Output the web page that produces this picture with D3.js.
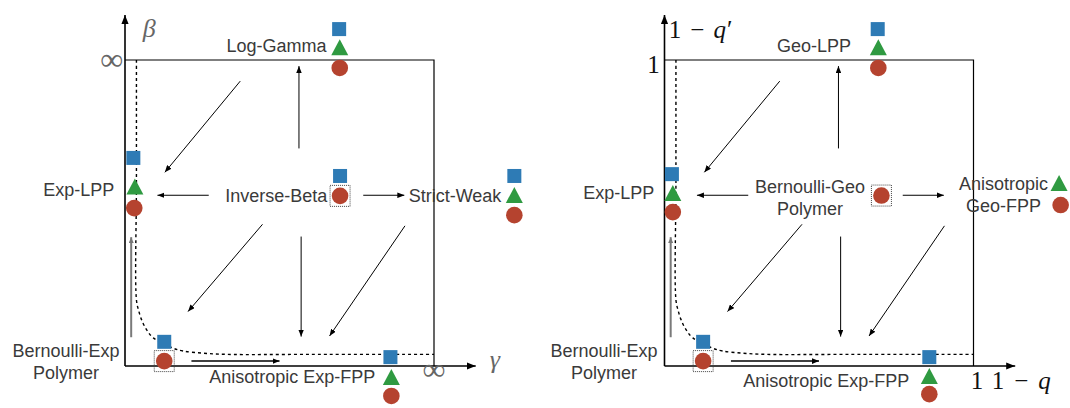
<!DOCTYPE html>
<html><head><meta charset="utf-8">
<script src="https://cdn.jsdelivr.net/npm/d3@7"></script>
<style>body{margin:0;background:#fff}svg{display:block}</style>
</head><body>
<svg id="c" width="1070" height="408"></svg>
<script>
// ---------- data (diagram coordinates in units of the parameter box: 0..1) ----------
const panels = [0, 1];
const yAxisTitles = ["β", "1 − q′"];
const xAxisTitles = ["γ", "1 − q"];
const yMaxLabels = ["∞", "1"];
const xMaxLabels = ["∞", "1"];

// node labels: [panel, lines, x, y(center of first line), anchor]
const nodeLabels = [
  [0, ["Log-Gamma"], 0.652, 1.046, "end"],
  [0, ["Exp-LPP"], -0.035, 0.575, "end"],
  [0, ["Inverse-Beta"], 0.655, 0.557, "end"],
  [0, ["Strict-Weak"], 1.218, 0.556, "end"],
  [0, ["Bernoulli-Exp", "Polymer"], -0.191, 0.049, "middle"],
  [0, ["Anisotropic Exp-FPP"], 0.810, -0.035, "end"],
  [1, ["Geo-LPP"], 0.604, 1.046, "end"],
  [1, ["Exp-LPP"], -0.033, 0.566, "end"],
  [1, ["Bernoulli-Geo", "Polymer"], 0.471, 0.586, "middle"],
  [1, ["Anisotropic", "Geo-FPP"], 1.097, 0.597, "middle"],
  [1, ["Bernoulli-Exp", "Polymer"], -0.196, 0.049, "middle"],
  [1, ["Anisotropic Exp-FPP"], 0.792, -0.049, "end"]
];

// markers: [panel, shape, x, y]
const markers = [
  [0, "square", 0.693, 1.101], [0, "triangle", 0.695, 1.042], [0, "circle", 0.695, 0.974],
  [0, "square", 0.027, 0.680], [0, "triangle", 0.032, 0.587], [0, "circle", 0.030, 0.516],
  [0, "square", 0.696, 0.621], [0, "boxedCircle", 0.696, 0.556],
  [0, "square", 1.260, 0.621], [0, "triangle", 1.260, 0.559], [0, "circle", 1.260, 0.493],
  [0, "square", 0.127, 0.079], [0, "boxedCircle", 0.127, 0.016],
  [0, "square", 0.859, 0.029], [0, "triangle", 0.862, -0.036], [0, "circle", 0.862, -0.098],
  [1, "square", 0.690, 1.101], [1, "triangle", 0.692, 1.042], [1, "circle", 0.692, 0.974],
  [1, "square", 0.024, 0.627], [1, "triangle", 0.027, 0.565], [1, "circle", 0.027, 0.503],
  [1, "boxedCircle", 0.702, 0.557],
  [1, "triangle", 1.277, 0.598], [1, "circle", 1.282, 0.526],
  [1, "square", 0.125, 0.079], [1, "boxedCircle", 0.125, 0.016],
  [1, "square", 0.857, 0.029], [1, "triangle", 0.857, -0.033], [1, "circle", 0.857, -0.092]
];

// flow arrows (same in both panels): [x1, y1, x2, y2, kind]
const arrows = [
  [0.373, 0.931, 0.129, 0.633, "thin"],
  [0.563, 0.711, 0.563, 0.980, "thin"],
  [0.271, 0.558, 0.105, 0.558, "thin"],
  [0.771, 0.558, 0.904, 0.558, "thin"],
  [0.445, 0.463, 0.204, 0.178, "thin"],
  [0.570, 0.423, 0.570, 0.096, "thin"],
  [0.906, 0.458, 0.662, 0.098, "thin"],
  [0.020, 0.094, 0.020, 0.421, "gray"],
  [0.215, 0.016, 0.500, 0.016, "bold"]
];

// dashed critical curve
const curvePoints = [
  [0.037, 1.0], [0.037, 0.6], [0.037, 0.216], [0.0437, 0.183], [0.0541, 0.150],
  [0.0702, 0.118], [0.0917, 0.092], [0.156, 0.058], [0.188, 0.049],
  [0.253, 0.042], [0.329, 0.038], [0.6, 0.038], [1.0, 0.038]
];

// ---------- layout ----------
const svg = d3.select("#c");
const panelLeft = [125, 664.5];
const boxW = 309, boxTop = 60, boxBottom = 366;
const axisYEnd = 1.147, axisXEnd = 1.135;
const col = {square: "#2e7bb5", triangle: "#2f9a41", circle: "#b5432f"};
const labelFont = "'Liberation Sans', Arial, Helvetica, sans-serif";
const mathFont = "'Liberation Serif', 'Times New Roman', serif";

const defs = svg.append("defs");
function mk(id, len, hw, color) {
  defs.append("marker").attr("id", id)
    .attr("markerUnits", "userSpaceOnUse")
    .attr("viewBox", `0 ${-hw} ${len} ${2*hw}`)
    .attr("refX", len).attr("refY", 0)
    .attr("markerWidth", len).attr("markerHeight", 2*hw)
    .attr("orient", "auto")
    .append("path").attr("d", `M0,${-hw}L${len},0L0,${hw}Z`).attr("fill", color);
}
mk("axHead", 9, 3.6, "#000");
mk("thinHead", 7, 2.8, "#000");
mk("grayHead", 6, 2.6, "#777");

panels.forEach(p => {
  const x = d3.scaleLinear().domain([0, 1]).range([panelLeft[p], panelLeft[p] + boxW]);
  const y = d3.scaleLinear().domain([0, 1]).range([boxBottom, boxTop]);
  const g = svg.append("g");

  // box
  g.append("path")
    .attr("d", `M${x(0)},${y(1)}H${x(1)}V${y(0)}`)
    .attr("fill", "none").attr("stroke", "#000").attr("stroke-width", 1.2);

  // dashed curve
  g.append("path")
    .attr("d", d3.line().x(d => x(d[0])).y(d => y(d[1])).curve(d3.curveCatmullRom.alpha(0.5))(curvePoints))
    .attr("fill", "none").attr("stroke", "#000").attr("stroke-width", 1.4)
    .attr("stroke-dasharray", "3,3");

  // axes
  g.append("line").attr("x1", x(0)).attr("y1", y(0)).attr("x2", x(0)).attr("y2", y(axisYEnd))
    .attr("stroke", "#000").attr("stroke-width", 1.6).attr("marker-end", "url(#axHead)");
  g.append("line").attr("x1", x(0)).attr("y1", y(0)).attr("x2", x(axisXEnd)).attr("y2", y(0))
    .attr("stroke", "#000").attr("stroke-width", 1.6).attr("marker-end", "url(#axHead)");

  // arrows
  g.selectAll(".arr").data(arrows).join("line")
    .attr("x1", d => x(d[0])).attr("y1", d => y(d[1]))
    .attr("x2", d => x(d[2])).attr("y2", d => y(d[3]))
    .attr("stroke", d => d[4] === "gray" ? "#7a7a7a" : "#000")
    .attr("stroke-width", d => d[4] === "gray" ? 2 : d[4] === "bold" ? 1.5 : 1)
    .attr("marker-end", d => d[4] === "gray" ? "url(#grayHead)" : "url(#thinHead)");

  // node labels
  nodeLabels.filter(d => d[0] === p).forEach(d => {
    const t = g.append("text").attr("font-family", labelFont).attr("font-size", 18)
      .attr("fill", "#3a3a3a").attr("text-anchor", d[4]);
    d[1].forEach((line, i) => {
      t.append("tspan").attr("x", x(d[2])).attr("y", y(d[3]) + i * 22).attr("dy", "0.35em").text(line);
    });
  });

  // markers
  const ms = markers.filter(d => d[0] === p);
  ms.forEach(d => {
    const cx = x(d[2]), cy = y(d[3]);
    if (d[1] === "square") {
      g.append("rect").attr("x", cx - 7).attr("y", cy - 7).attr("width", 14).attr("height", 14).attr("fill", col.square);
    } else if (d[1] === "triangle") {
      g.append("path").attr("d", `M${cx},${cy - 8}L${cx + 8.5},${cy + 8}L${cx - 8.5},${cy + 8}Z`).attr("fill", col.triangle);
    } else {
      if (d[1] === "boxedCircle") {
        g.append("rect").attr("x", cx - 10).attr("y", cy - 10.5).attr("width", 20).attr("height", 21)
          .attr("fill", "none").attr("stroke", "#444").attr("stroke-width", 1).attr("stroke-dasharray", "1,1");
      }
      g.append("circle").attr("cx", cx).attr("cy", cy).attr("r", 8.3).attr("fill", col.circle);
    }
  });

  // axis titles and extreme labels
  if (p === 0) {
    g.append("text").attr("x", x(0.078)).attr("y", y(1.101)).attr("dy", "0.3em")
      .attr("text-anchor", "middle").attr("font-family", mathFont).attr("font-style", "italic")
      .attr("font-size", 26).attr("fill", "#666").text(yAxisTitles[p]);
    g.append("text").attr("x", x(1.197)).attr("y", y(0.020)).attr("dy", "0.3em")
      .attr("text-anchor", "middle").attr("font-family", mathFont).attr("font-style", "italic")
      .attr("font-size", 26).attr("fill", "#666").text(xAxisTitles[p]);
    g.append("text").attr("x", x(-0.006)).attr("y", y(0.994)).attr("dy", "0.25em")
      .attr("text-anchor", "end").attr("font-family", mathFont)
      .attr("font-size", 32).attr("fill", "#666").text(yMaxLabels[p]);
    g.append("text").attr("x", x(1.0)).attr("y", y(-0.020)).attr("dy", "0.25em")
      .attr("text-anchor", "middle").attr("font-family", mathFont)
      .attr("font-size", 32).attr("fill", "#666").text(xMaxLabels[p]);
  } else {
    const parts = xAxisTitles[p].split(" ");
    const ty = g.append("text").attr("x", x(0.014)).attr("y", y(1.098)).attr("dy", "0.33em")
      .attr("font-family", mathFont).attr("font-size", 25).attr("fill", "#111");
    const py = yAxisTitles[p].split(" ");
    ty.append("tspan").text(py[0]);
    ty.append("tspan").attr("dx", 9).text(py[1]);
    ty.append("tspan").attr("dx", 9).attr("font-style", "italic").text(py[2].replace("′", ""));
    ty.append("tspan").attr("dx", 1).text("′");
    const tx = g.append("text").attr("x", x(1.059)).attr("y", y(-0.049)).attr("dy", "0.33em")
      .attr("font-family", mathFont).attr("font-size", 25).attr("fill", "#111");
    tx.append("tspan").text(parts[0]);
    tx.append("tspan").attr("dx", 10).text(parts[1]);
    tx.append("tspan").attr("dx", 10).attr("font-style", "italic").text(parts[2]);
    g.append("text").attr("x", x(-0.015)).attr("y", y(0.984)).attr("dy", "0.33em")
      .attr("text-anchor", "end").attr("font-family", mathFont)
      .attr("font-size", 25).attr("fill", "#111").text(yMaxLabels[p]);
    g.append("text").attr("x", x(1.011)).attr("y", y(-0.049)).attr("dy", "0.33em")
      .attr("text-anchor", "middle").attr("font-family", mathFont)
      .attr("font-size", 25).attr("fill", "#111").text(xMaxLabels[p]);
  }
});
</script>
</body></html>
